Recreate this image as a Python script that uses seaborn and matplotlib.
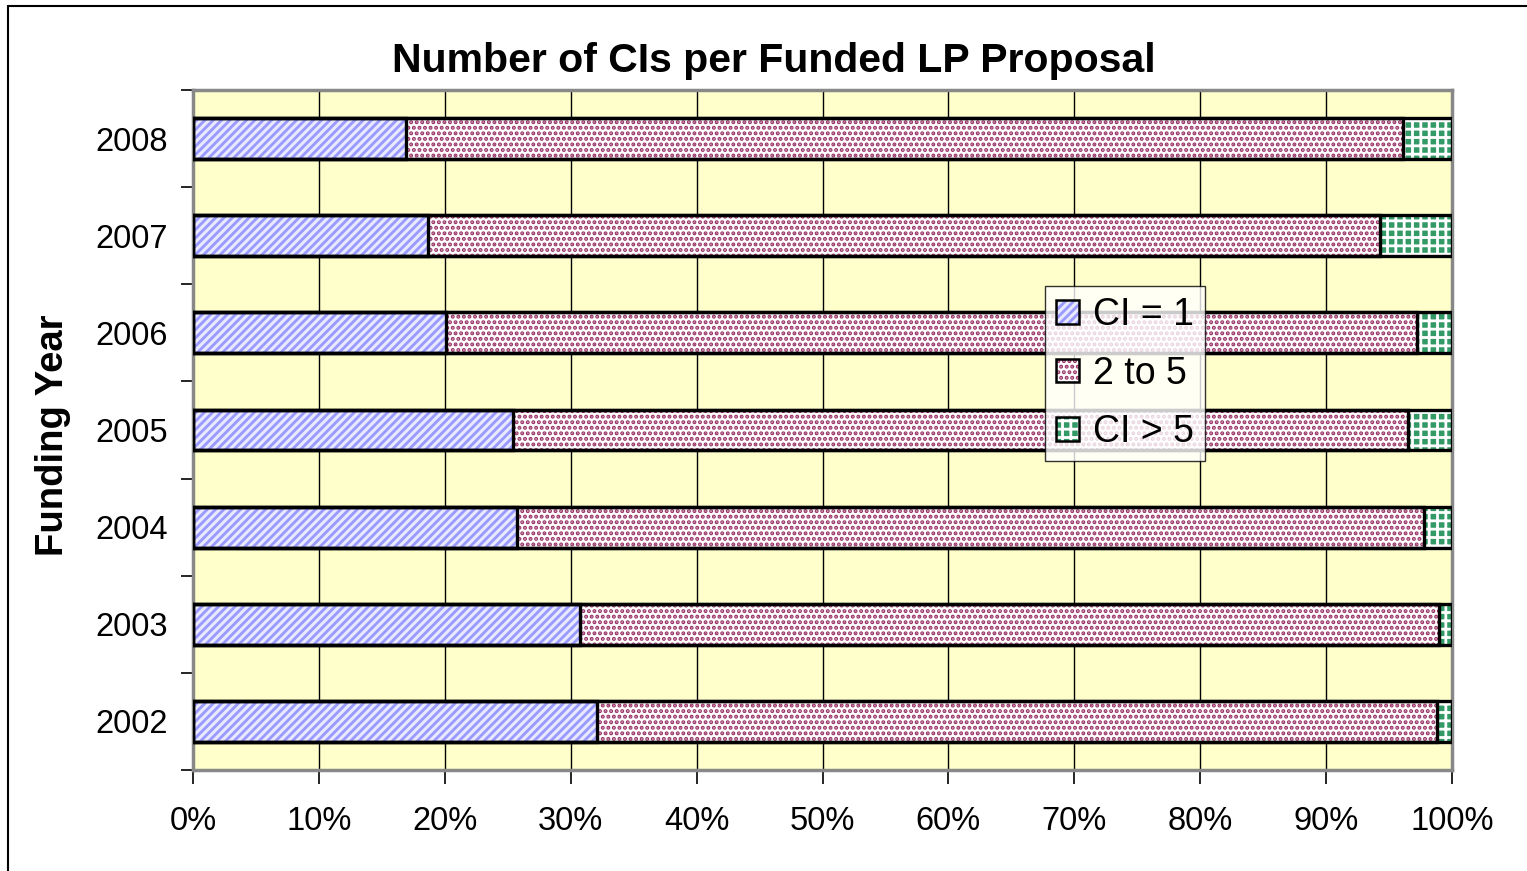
import numpy as np
import pandas as pd
import seaborn as sns
import matplotlib
matplotlib.use('Agg')
import matplotlib.pyplot as plt
from matplotlib.patches import Patch
from matplotlib.lines import Line2D
from matplotlib.legend_handler import HandlerTuple
from matplotlib.ticker import MultipleLocator, FuncFormatter

# --- data (share of funded LP proposals, %) ---
years = ['2008', '2007', '2006', '2005', '2004', '2003', '2002']
ci_1 = [16.9, 18.7, 20.1, 25.4, 25.7, 30.7, 32.1]
ci_2_to_5 = [79.2, 75.6, 77.1, 71.1, 72.1, 68.3, 66.7]
ci_over_5 = [3.9, 5.7, 2.8, 3.5, 2.2, 1.0, 1.2]
series_names = ['CI = 1', '2 to 5', 'CI > 5']

df = pd.DataFrame({'year': years, 'ci1': ci_1, 'ci25': ci_2_to_5, 'ci5': ci_over_5})
df['cum1'] = df['ci1']
df['cum2'] = df['ci1'] + df['ci25']
df['cum3'] = df['cum2'] + df['ci5']

sns.set_style('white')
plt.rcParams['font.family'] = ['Liberation Sans', 'DejaVu Sans']
plt.rcParams['hatch.linewidth'] = 2.0
for k in ['text.color', 'axes.labelcolor', 'xtick.color', 'ytick.color']:
    plt.rcParams[k] = 'black'

# (face, hatch colour, hatch)
styles = [
    ('#e8e8ff', '#9999ff', '////'),
    ('#ffffff', '#993366', '...'),
    ('#339966', '#ffffff', '++'),
]

fig = plt.figure(figsize=(15.27, 8.71), dpi=100)
ax = fig.add_axes([193 / 1527, 1 - 770 / 871, (1452 - 193) / 1527, 680 / 871])
ax.set_facecolor('#ffffcc')

bar_h = 0.42
# stacked bars: draw the cumulative totals from widest to narrowest
for col, (face, hcol, hatch) in zip(['cum3', 'cum2', 'cum1'], styles[::-1]):
    n0 = len(ax.patches)
    sns.barplot(data=df, x=col, y='year', order=years, orient='h',
                color=face, width=bar_h, linewidth=0, ax=ax, zorder=3)
    for p in ax.patches[n0:]:
        p.set_hatch(hatch)
        p.set_edgecolor(hcol)
        p.set_facecolor(face)
        p.set_linewidth(0)
    sns.barplot(data=df, x=col, y='year', order=years, orient='h',
                fill=False, color='black', width=bar_h, linewidth=2.4, ax=ax, zorder=4)

ax.set_xlim(0, 100)
ax.set_ylim(len(years) - 0.5, -0.5)

# gridlines at 10% steps
ax.xaxis.set_major_locator(MultipleLocator(10))
ax.xaxis.set_major_formatter(FuncFormatter(lambda v, _: f'{v:.0f}%'))
ax.grid(axis='x', color='black', linewidth=1.0, zorder=1)
ax.set_axisbelow(True)

# y ticks: labels at centres, tick marks at category boundaries
ax.set_yticks(np.arange(len(years)))
ax.set_yticklabels(years)
ax.set_yticks(np.arange(len(years) + 1) - 0.5, minor=True)
ax.tick_params(axis='y', which='major', length=0, pad=18, labelsize=23.5)
ax.tick_params(axis='y', which='minor', length=9, width=1.2, color='black', left=True, direction='out')
ax.tick_params(axis='x', which='major', length=10, width=1.2, color='black', bottom=True,
               direction='out', pad=16, labelsize=23.5)

for s in ax.spines.values():
    s.set_color('#888888')
    s.set_linewidth(2.5)

ax.set_xlabel('')
ax.set_ylabel('')
fig.text(53 / 1527, 1 - 435 / 871, 'Funding Year', rotation=90, ha='center', va='center',
         fontsize=27.5, fontweight='bold')
fig.text(774 / 1527, 1 - 61 / 871, 'Number of CIs per Funded LP Proposal', ha='center',
         va='center', fontsize=29.5, fontweight='bold')

handles = [(Patch(facecolor=f, edgecolor=h, hatch=ht, linewidth=0),
            Patch(facecolor='none', edgecolor='black', linewidth=1.8)) for f, h, ht in styles]
leg = ax.legend(handles, series_names, loc='upper left',
                handler_map={tuple: HandlerTuple(ndivide=1)},
                bbox_to_anchor=((1045 - 193) / 1259, (770 - 286) / 680),
                fontsize=27, frameon=True, fancybox=False, borderpad=0.3,
                handlelength=0.6, handleheight=0.6, handletextpad=0.38, labelspacing=0.6,
                borderaxespad=0)
leg.get_frame().set_edgecolor('black')
leg.get_frame().set_linewidth(1.0)
leg.set_zorder(10)

# outer chart frame (left and top edges)
fig.add_artist(Line2D([8 / 1527, 8 / 1527], [0, 1 - 6 / 871], color='black', linewidth=1.5))
fig.add_artist(Line2D([8 / 1527, 1], [1 - 6 / 871, 1 - 6 / 871], color='black', linewidth=1.5))

fig.savefig('out.png', dpi=100)
